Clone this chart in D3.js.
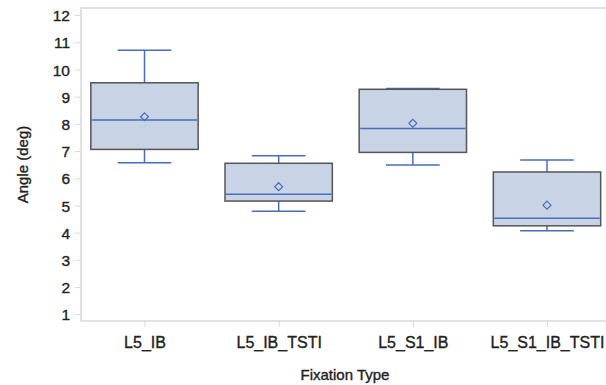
<!DOCTYPE html>
<html>
<head>
<meta charset="utf-8">
<script src="https://cdn.jsdelivr.net/npm/d3@7"></script>
<style>
  body { margin: 0; background: #fff; }
  text { font-family: "Liberation Sans", Arial, sans-serif; fill: #222; stroke: #222; stroke-width: 0.35px; }
</style>
</head>
<body>
<div class="canvas"></div>
<script>
// data
const categories = ['L5_IB', 'L5_IB_TSTI', 'L5_S1_IB', 'L5_S1_IB_TSTI'];
const whiskerLow = [6.57, 4.79, 6.49, 4.07];
const q1 = [7.06, 5.16, 6.95, 4.25];
const median = [8.14, 5.41, 7.83, 4.53];
const q3 = [9.51, 6.55, 9.27, 6.23];
const whiskerHigh = [10.71, 6.83, 9.30, 6.67];
const means = [8.26, 5.69, 8.02, 5.01];
const yTicks = [1, 2, 3, 4, 5, 6, 7, 8, 9, 10, 11, 12];

const width = 606, height = 385;
const plot = { left: 81, top: 8, right: 640, bottom: 321 };

const svg = d3.select('.canvas')
    .append('svg')
    .attr('width', width)
    .attr('height', height);

const data = categories.map((c, i) => ({
    cat: c, lo: whiskerLow[i], q1: q1[i], med: median[i],
    q3: q3[i], hi: whiskerHigh[i], mean: means[i]
}));

// scales
const x = d3.scalePoint().domain(categories).range([144.5, 547]);
const y = d3.scaleLinear().domain([0.75, 12.26]).range([plot.bottom, plot.top]);
const step = x.step();
const boxW = step * 0.8;
const capW = step * 0.4;

// frame
svg.append('path')
    .attr('d', `M${plot.right},${plot.top}H${plot.left}V${plot.bottom}H${plot.right}`)
    .attr('fill', 'none')
    .attr('stroke', '#d9d9d9')
    .attr('stroke-width', 1.5);

// axes
const yAxis = d3.axisLeft(y).tickValues(yTicks).tickSize(6).tickPadding(5);
const xAxis = d3.axisBottom(x).tickSize(6).tickPadding(10);

const yAxisGroup = svg.append('g')
    .attr('transform', `translate(${plot.left},0)`)
    .call(yAxis);
const xAxisGroup = svg.append('g')
    .attr('transform', `translate(0,${plot.bottom})`)
    .call(xAxis);

[yAxisGroup, xAxisGroup].forEach(g => {
    g.select('.domain').remove();
    g.selectAll('line').attr('stroke', '#d9d9d9');
    g.selectAll('text').attr('fill', '#222');
});
yAxisGroup.selectAll('text').attr('dy', '0.36em').style('font-size', '15.5px');
xAxisGroup.selectAll('text').style('font-size', '16px');

// boxes
const boxes = svg.selectAll('g.box')
    .data(data)
    .enter()
    .append('g')
    .attr('class', 'box');

const blue = '#4a6cbb';

boxes.append('line')
    .attr('x1', d => x(d.cat)).attr('x2', d => x(d.cat))
    .attr('y1', d => y(d.hi)).attr('y2', d => y(d.q3))
    .attr('stroke', blue).attr('stroke-width', 1.5);
boxes.append('line')
    .attr('x1', d => x(d.cat)).attr('x2', d => x(d.cat))
    .attr('y1', d => y(d.q1)).attr('y2', d => y(d.lo))
    .attr('stroke', blue).attr('stroke-width', 1.5);
boxes.append('line')
    .attr('x1', d => x(d.cat) - capW / 2).attr('x2', d => x(d.cat) + capW / 2)
    .attr('y1', d => y(d.hi)).attr('y2', d => y(d.hi))
    .attr('stroke', blue).attr('stroke-width', 1.5);
boxes.append('line')
    .attr('x1', d => x(d.cat) - capW / 2).attr('x2', d => x(d.cat) + capW / 2)
    .attr('y1', d => y(d.lo)).attr('y2', d => y(d.lo))
    .attr('stroke', blue).attr('stroke-width', 1.5);

boxes.append('rect')
    .attr('x', d => x(d.cat) - boxW / 2)
    .attr('width', boxW)
    .attr('y', d => y(d.q3))
    .attr('height', d => y(d.q1) - y(d.q3))
    .attr('fill', '#c8d4e6')
    .attr('stroke', '#555')
    .attr('stroke-width', 1.5);

boxes.append('line')
    .attr('x1', d => x(d.cat) - boxW / 2 + 1).attr('x2', d => x(d.cat) + boxW / 2 - 1)
    .attr('y1', d => y(d.med)).attr('y2', d => y(d.med))
    .attr('stroke', blue).attr('stroke-width', 1.5);

boxes.append('path')
    .attr('transform', d => `translate(${x(d.cat)},${y(d.mean)})`)
    .attr('d', d3.symbol(d3.symbolDiamond2, 40))
    .attr('fill', 'none')
    .attr('stroke', blue)
    .attr('stroke-width', 1.2);

// axis titles
svg.append('text')
    .attr('transform', `translate(23,${(plot.top + plot.bottom) / 2}) rotate(-90)`)
    .attr('text-anchor', 'middle')
    .attr('dy', '0.35em')
    .style('font-size', '15px')
    .text('Angle (deg)');

svg.append('text')
    .attr('x', 345)
    .attr('y', 375)
    .attr('text-anchor', 'middle')
    .attr('dy', '0.35em')
    .style('font-size', '15px')
    .text('Fixation Type');
</script>
</body>
</html>
